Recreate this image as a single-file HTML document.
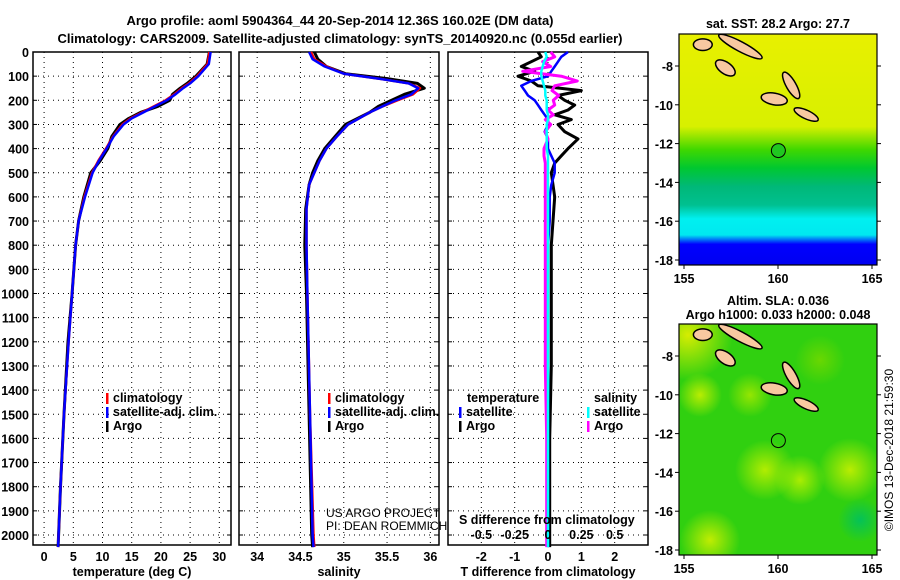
<!DOCTYPE html>
<html><head><meta charset="utf-8"><style>
body{margin:0;background:#fff;}
svg{display:block;font-family:"Liberation Sans",sans-serif;}
.t{font-weight:bold;font-size:13px;}
.k{font-weight:bold;font-size:12.5px;}
</style></head><body>
<svg id="c" width="900" height="580">
<text x="340" y="25" text-anchor="middle" class="t">Argo profile: aoml 5904364_44 20-Sep-2014 12.36S 160.02E (DM data)</text>
<text x="340" y="43" text-anchor="middle" class="t">Climatology: CARS2009. Satellite-adjusted climatology: synTS_20140920.nc (0.055d earlier)</text>
<g id="maps"></g>
<text transform="translate(893,450) rotate(-90)" text-anchor="middle" font-size="12">©IMOS 13-Dec-2018 21:59:30</text>
</svg>
<script>
const depthTicks=[0,100,200,300,400,500,600,700,800,900,1000,1100,1200,1300,1400,1500,1600,1700,1800,1900,2000];
// temperature panel
const tDepth=[0,50,100,130,150,175,200,225,250,275,300,350,400,450,500,600,700,800,1000,1200,1500,1800,2050];
const tClim=[28.3,28.0,26.2,24.8,23.6,22.3,20.8,18.8,16.8,14.8,13.4,11.8,10.6,9.3,8.2,6.9,5.9,5.4,4.8,4.2,3.4,2.8,2.4];
const tSat=[28.5,28.2,26.4,25.0,23.8,22.5,21.0,19.0,17.0,15.0,13.6,11.9,10.7,9.4,8.3,7.0,5.9,5.4,4.8,4.2,3.4,2.8,2.4];
const tArgo=[28.3,27.9,26.0,24.5,23.3,22.0,21.5,19.5,16.5,14.5,13.0,11.6,10.9,9.6,8.0,6.8,5.9,5.4,4.8,4.1,3.4,2.8,2.4];
const tTicks=[0,5,10,15,20,25,30];
// salinity panel
const sDepth=[0,30,60,90,110,130,150,175,200,225,250,300,350,400,450,500,550,650,800,1000,1500,2000,2050];
const sClim=[34.62,34.66,34.8,35.0,35.4,35.75,35.88,35.8,35.62,35.45,35.3,35.05,34.92,34.8,34.72,34.66,34.6,34.57,34.57,34.58,34.61,34.65,34.66];
const sSat=[34.6,34.64,34.78,35.0,35.4,35.75,35.86,35.78,35.6,35.45,35.3,35.05,34.92,34.8,34.72,34.66,34.6,34.57,34.57,34.58,34.61,34.64,34.65];
const sArgo=[34.66,34.7,34.8,35.02,35.5,35.85,35.93,35.7,35.55,35.4,35.3,35.02,34.9,34.78,34.7,34.64,34.6,34.56,34.55,34.57,34.6,34.63,34.64];
const sTicks=[34,34.5,35,35.5,36];
// difference panel
const dDepth=[0,20,40,60,80,100,120,140,160,180,200,220,240,260,280,300,330,360,400,430,460,500,550,600,700,800,1000,1300,1600,2050];
const dT_argo=[-0.3,-0.2,-0.5,-0.8,-0.4,-0.9,-0.5,-0.3,1.0,0.3,0.5,0.8,0.6,0.2,0.7,0.3,0.5,0.9,0.6,0.4,0.2,0.1,0.15,0.2,0.15,0.1,0.1,0.1,0.05,0.05];
const dT_sat=[0.6,0.4,0.3,0.2,0.1,0.0,-0.5,-0.8,-0.7,-0.6,-0.4,-0.3,-0.2,-0.1,0.0,0.0,-0.1,0.0,0.0,0.1,0.2,0.2,0.1,0.05,0.05,0.0,0.0,0.0,0.0,0.0];
const dS_argo=[0.02,0.05,-0.04,0.02,-0.19,0.1,0.22,0.05,0.03,0.08,0.04,0.05,0.0,0.04,-0.02,0.02,-0.02,0.0,-0.03,-0.03,-0.02,-0.02,-0.02,-0.02,-0.02,-0.02,-0.02,-0.02,-0.01,-0.01];
const dS_sat=[-0.02,-0.01,-0.03,-0.04,-0.05,-0.05,-0.04,-0.03,-0.02,-0.02,-0.01,-0.01,-0.01,0.0,0.0,-0.01,-0.01,-0.01,-0.01,0.0,0.0,0.0,0.0,0.0,0.0,0.0,0.0,0.0,0.0,0.0];
const dTicks=[-2,-1,0,1,2];
const dSTicks=[-0.5,-0.25,0,0.25,0.5];
const dSLabels=["-0.5","-0.25","0","0.25","0.5"];

const NS="http://www.w3.org/2000/svg";
const svg=document.getElementById('c');
function el(tag,attrs,parent){const e=document.createElementNS(NS,tag);for(const k in attrs)e.setAttribute(k,attrs[k]);(parent||svg).appendChild(e);return e;}
const Y0=52,YB=545;
const yD=d=>Y0+d*0.2415;

function panel(name,x0,x1,vmin,vmax,ticks,tickLbl,xlabel,showDepth){
  const xs=v=>x0+(v-vmin)/(vmax-vmin)*(x1-x0);
  const g=el('g',{});
  
  
  depthTicks.forEach(d=>{
    const l=el('line',{x1:x0,x2:x1,y1:yD(d),y2:yD(d),stroke:'#000','stroke-dasharray':'1,4','stroke-width':1},g);
    
    el('line',{x1:x1-4,x2:x1,y1:yD(d),y2:yD(d),stroke:'#000'},g);
    el('line',{x1:x0,x2:x0+4,y1:yD(d),y2:yD(d),stroke:'#000'},g);
    if(showDepth){const t=el('text',{x:x0-4,y:yD(d)+5,'text-anchor':'end',class:'k'},g);t.textContent=d;
      }
  });
  ticks.forEach((v,i)=>{
    el('line',{x1:xs(v),x2:xs(v),y1:Y0,y2:YB,stroke:'#000','stroke-dasharray':'1,4'},g);
    const t=el('text',{x:xs(v),y:561,'text-anchor':'middle',class:'k'},g);t.textContent=tickLbl[i];
    
  });
  el('rect',{x:x0,y:Y0,width:x1-x0,height:YB-Y0,fill:'none',stroke:'#000','stroke-width':1.5},g);
  const xl=el('text',{x:(x0+x1)/2,y:576,'text-anchor':'middle',class:'k'},g);xl.textContent=xlabel;
  
  return {g,xs};
}
function line(p,depths,vals,color,w,name,scale){
  const pts=depths.map((d,i)=>p.xs(vals[i]*(scale||1)).toFixed(1)+','+yD(d).toFixed(1)).join(' ');
  const l=el('polyline',{points:pts,fill:'none',stroke:color,'stroke-width':w,'stroke-linejoin':'round'},p.g);
  
  
}
function legend(g,x,y,items){
  items.forEach((it,i)=>{
    el('rect',{x:x,y:y+i*14-9,width:2.5,height:11,fill:it[1]},g);
    const t=el('text',{x:x+7,y:y+i*14,class:'k'},g);t.textContent=it[0];
    
  });
}
const p1=panel('temperature',33,231,-1.9,32,tTicks,tTicks.map(String),'temperature (deg C)',true);
line(p1,tDepth,tArgo,'#000',3,'temp-argo-line');
line(p1,tDepth,tClim,'#f00',2.5,'temp-climatology-line');
line(p1,tDepth,tSat,'#00f',2.5,'temp-satellite-line');
legend(p1.g,106,402,[['climatology','#f00'],['satellite-adj. clim.','#00f'],['Argo','#000']]);
const p2=panel('salinity',239,439,33.79,36.1,sTicks,sTicks.map(String),'salinity',false);
line(p2,sDepth,sArgo,'#000',3,'sal-argo-line');
line(p2,sDepth,sClim,'#f00',2.5,'sal-climatology-line');
line(p2,sDepth,sSat,'#00f',2.5,'sal-satellite-line');
legend(p2.g,328,402,[['climatology','#f00'],['satellite-adj. clim.','#00f'],['Argo','#000']]);
let u=el('text',{x:326,y:517,'font-size':12},p2.g);u.textContent='US ARGO PROJECT';

u=el('text',{x:326,y:530,'font-size':12},p2.g);u.textContent='PI: DEAN ROEMMICH';

const p3=panel('difference',448,648,-3,3,dTicks,dTicks.map(String),'T difference from climatology',false);
line(p3,dDepth,dT_argo,'#000',3,'tdiff-argo-line');
line(p3,dDepth,dT_sat,'#00f',2.5,'tdiff-satellite-line');
line(p3,dDepth,dS_argo,'#f0f',3,'sdiff-argo-line',4);
line(p3,dDepth,dS_sat,'#0ff',2.5,'sdiff-satellite-line',4);
let tt=el('text',{x:467,y:402,class:'k'},p3.g);tt.textContent='temperature';

tt=el('text',{x:594,y:402,class:'k'},p3.g);tt.textContent='salinity';

legend(p3.g,459,416,[['satellite','#00f'],['Argo','#000']]);
legend(p3.g,587,416,[['satellite','#0ff'],['Argo','#f0f']]);
tt=el('text',{x:459,y:524,class:'k'},p3.g);tt.textContent='S difference from climatology';

dSTicks.forEach((v,i)=>{const t=el('text',{x:p3.xs(v*4),y:539,'text-anchor':'middle',class:'k'},p3.g);t.textContent=dSLabels[i];
 });

// Maps
const maps=document.getElementById('maps');
function map(name,y0,y1,yLat8,title1,title2,kind){
  const x0=679,x1=877;
  const lx=l=>684+(l-155)*18.8, ly=l=>yLat8+(-8-l)*19.4;
  const g=el('g',{},maps);
  
  
  const defs=el('defs',{},g);
  const cp=el('clipPath',{id:'cp'+kind},defs);
  el('rect',{x:x0,y:y0,width:x1-x0,height:y1-y0},cp);
  const inner=el('g',{'clip-path':'url(#cp'+kind+')'},g);
  if(kind==1){
    const lg=el('linearGradient',{id:'g1',x1:0,y1:0,x2:0,y2:1},defs);
    [[0,'#e8f000'],[0.4,'#d8f000'],[0.5,'#40d800'],[0.58,'#00c830'],[0.66,'#00b878'],[0.74,'#00c090'],[0.8,'#00f0f0'],[0.87,'#00e8f0'],[0.91,'#0000ff'],[1,'#0000f0']].forEach(s=>el('stop',{offset:s[0],'stop-color':s[1]},lg));
    el('rect',{x:x0,y:y0,width:x1-x0,height:y1-y0,fill:'url(#g1)'},inner);
  } else {
    el('rect',{x:x0,y:y0,width:x1-x0,height:y1-y0,fill:'#30d010'},inner);
    [[688,335,45,'#e8f000'],[700,395,22,'#c8f000'],[710,540,30,'#d0f000'],[765,470,30,'#c0f000'],[800,480,25,'#b8f000'],[850,470,32,'#c8f000'],[750,395,22,'#a0e800'],[820,360,25,'#70d800'],[860,520,22,'#00c060']].forEach((b,i)=>{
      const rg=el('radialGradient',{id:'r'+i},defs);
      el('stop',{offset:0,'stop-color':b[3],'stop-opacity':0.9},rg);el('stop',{offset:1,'stop-color':b[3],'stop-opacity':0},rg);
      el('circle',{cx:b[0],cy:b[1],r:b[2],fill:'url(#r'+i+')'},inner);
    });
  }
  [[158,-7.0,1.3,0.25,28],[157.2,-8.1,0.6,0.3,35],[159.8,-9.7,0.7,0.3,10],[160.7,-9.0,0.8,0.25,60],[161.5,-10.5,0.7,0.22,25],[156,-6.9,0.5,0.3,0]].forEach(s=>{
    el('ellipse',{cx:lx(s[0]),cy:ly(s[1]),rx:s[2]*18.8,ry:s[3]*19.4,fill:'#f8c8a0',stroke:'#000','stroke-width':1.5,transform:`rotate(${s[4]} ${lx(s[0])} ${ly(s[1])})`},inner);
  });
  el('circle',{cx:lx(160.02),cy:ly(-12.36),r:7,fill:kind==1?'#20c820':'none',stroke:'#000'},inner);
  el('rect',{x:x0,y:y0,width:x1-x0,height:y1-y0,fill:'none',stroke:'#000','stroke-width':1.2},g);
  [-8,-10,-12,-14,-16,-18].forEach(l=>{
    el('line',{x1:x0-4,x2:x0,y1:ly(l),y2:ly(l),stroke:'#000'},g);
    el('line',{x1:x1,x2:x1+4,y1:ly(l),y2:ly(l),stroke:'#000'},g);
    const t=el('text',{x:x0-6,y:ly(l)+5,'text-anchor':'end',class:'k'},g);t.textContent=l;
    
  });
  [155,160,165].forEach(l=>{
    el('line',{x1:lx(l),x2:lx(l),y1:y1,y2:y1+4,stroke:'#000'},g);
    const t=el('text',{x:lx(l),y:y1+18,'text-anchor':'middle',class:'k'},g);t.textContent=l;
    
  });
  let t=el('text',{x:778,y:title2?y0-19:y0-6,'text-anchor':'middle',class:'k'},g);t.textContent=title1;
  
  if(title2){t=el('text',{x:778,y:y0-5,'text-anchor':'middle',class:'k'},g);t.textContent=title2;
    }
}
map('sst-map',34,265,66,'sat. SST: 28.2 Argo: 27.7',null,1);
map('sla-map',324,555,356,'Altim. SLA: 0.036','Argo h1000: 0.033 h2000: 0.048',2);
</script>
</body></html>
